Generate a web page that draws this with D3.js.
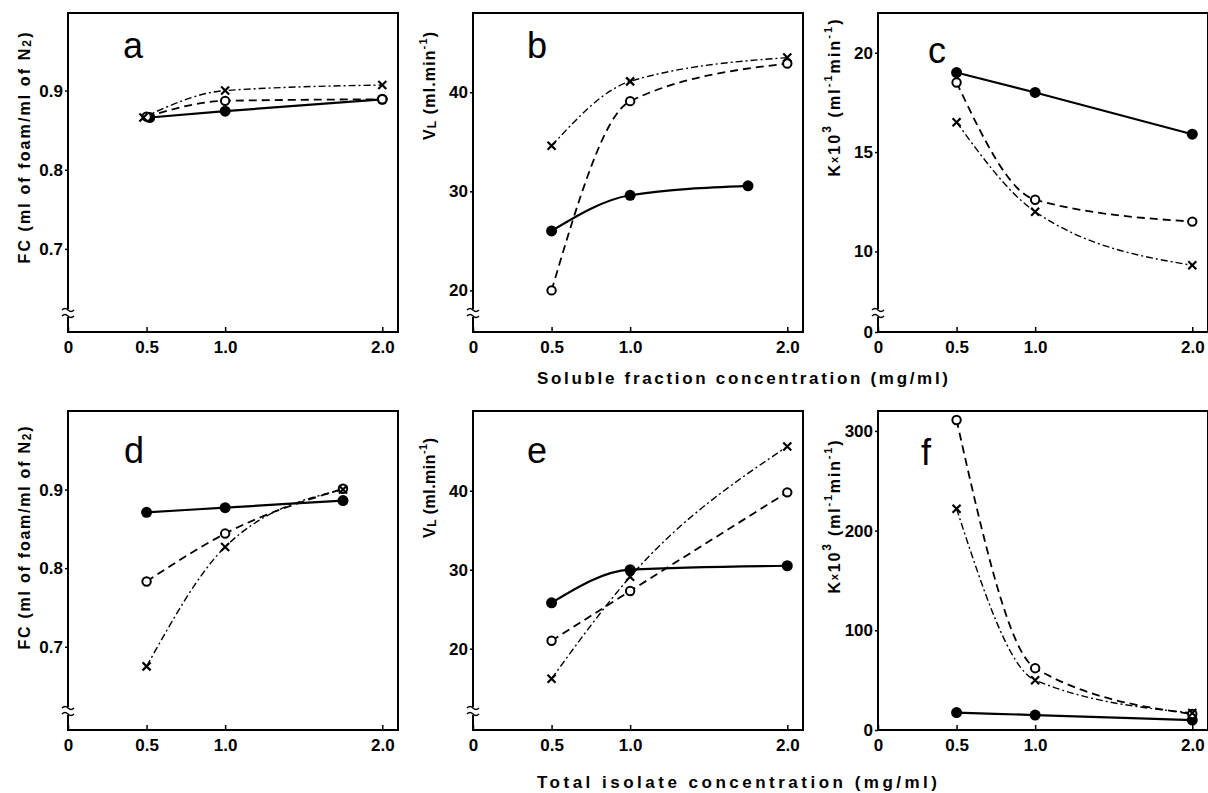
<!DOCTYPE html>
<html>
<head>
<meta charset="utf-8">
<script src="https://cdn.jsdelivr.net/npm/d3@7"></script>
<style>
  body { margin: 0; background: #fff; }
  svg text { font-family: "Liberation Sans", Arial, sans-serif; fill: #000; }
  .ylab { font-size: 16px; font-weight: bold; }
  .xtitle { font-size: 17px; font-weight: bold; }
  .letter { font-size: 36px; font-weight: normal; }
</style>
</head>
<body>
<div id="chart"></div>
<script>
// x positions (mg/ml)
var xTicks = [0, 0.5, 1.0, 2.0];
var xConc = [0.5, 1.0, 2.0];
var xConcShort = [0.5, 1.0, 1.75];
var xConcA_filled = [0.52, 1.0, 2.0];
var xConcA_cross = [0.48, 1.0, 2.0];

// a: FC, soluble fraction
var aFilled = [0.866, 0.874, 0.889];
var aOpen = [0.867, 0.887, 0.889];
var aCross = [0.866, 0.900, 0.907];
// b: VL, soluble fraction
var bFilled = [26.0, 29.6, 30.55];
var bOpen = [20.0, 39.1, 42.9];
var bCross = [34.6, 41.1, 43.5];
// c: K x 10^3, soluble fraction
var cFilled = [19.0, 18.0, 15.9];
var cOpen = [18.5, 12.6, 11.5];
var cCross = [16.5, 12.0, 9.3];
// d: FC, total isolate
var dFilled = [0.871, 0.877, 0.886];
var dOpen = [0.783, 0.844, 0.901];
var dCross = [0.675, 0.827, 0.900];
// e: VL, total isolate
var eFilled = [25.8, 30.0, 30.5];
var eOpen = [21.0, 27.3, 39.8];
var eCross = [16.2, 29.1, 45.6];
// f: K x 10^3, total isolate
var fFilled = [17.5, 15, 10];
var fOpen = [311, 62, 16];
var fCross = [222, 50, 17];

var yTicksFC = [0.7, 0.8, 0.9];
var yTicksV = [20, 30, 40];
var yTicksKc = [0, 10, 15, 20];
var yTicksKf = [0, 100, 200, 300];

var width = 1208, height = 793;
var colLeft = [68, 473, 878];
var rowTop = [13, 411];
var pw = 330, ph = 319;

function zip(xs, ys) { return xs.map(function(x, i) { return [x, ys[i]]; }); }

var panels = [
  { letter: 'a', col: 0, row: 0, yDomain: [0.595, 0.998], yTicks: yTicksFC, fmt: '.1f', brk: true, lab: 'fc', labY: 135, labLen: 231, letterPos: [65, 32],
    series: [zip(xConcA_filled, aFilled), zip(xConc, aOpen), zip(xConcA_cross, aCross)] },
  { letter: 'b', col: 1, row: 0, yDomain: [15.8, 48.0], yTicks: yTicksV, fmt: 'd', brk: true, lab: 'v', labY: 73, labLen: 108, letterPos: [64, 32],
    series: [zip(xConcShort, bFilled), zip(xConc, bOpen), zip(xConc, bCross)] },
  { letter: 'c', col: 2, row: 0, yDomain: [0, 6.9, 22.0], yTicks: yTicksKc, fmt: 'd', brk: true, lab: 'k', labY: 85, labLen: 157, letterPos: [59, 37],
    series: [zip(xConc, cFilled), zip(xConc, cOpen), zip(xConc, cCross)] },
  { letter: 'd', col: 0, row: 1, yDomain: [0.594, 1.0], yTicks: yTicksFC, fmt: '.1f', brk: true, lab: 'fc', labY: 127, labLen: 223, letterPos: [66, 39],
    series: [zip(xConcShort, dFilled), zip(xConcShort, dOpen), zip(xConcShort, dCross)] },
  { letter: 'e', col: 1, row: 1, yDomain: [9.7, 50.1], yTicks: yTicksV, fmt: 'd', brk: true, lab: 'v', labY: 77, labLen: 100, letterPos: [64, 39],
    series: [zip(xConc, eFilled), zip(xConc, eOpen), zip(xConc, eCross)] },
  { letter: 'f', col: 2, row: 1, yDomain: [0, 320], yTicks: yTicksKf, fmt: 'd', brk: false, lab: 'k', labY: 106, labLen: 153, letterPos: [48, 41],
    series: [zip(xConc, fFilled), zip(xConc, fOpen), zip(xConc, fCross)] }
];

var svg = d3.select("#chart").append("svg")
    .attr("width", width)
    .attr("height", height);

svg.append("rect").attr("width", width).attr("height", height).attr("fill", "#fff");

var x = d3.scaleLinear().domain([0, 2.1]).range([0, pw]);
var line = d3.line()
    .x(function(d) { return x(d[0]); })
    .curve(d3.curveMonotoneX);

var styles = [
  { dash: null, width: 2.2 },
  { dash: "8,5", width: 1.8 },
  { dash: "7,3,2,3", width: 1.4 }
];

function yLabel(t, kind) {
  if (kind === 'fc') {
    t.append("tspan").text("FC (ml of foam/ml of N");
    t.append("tspan").attr("baseline-shift", "-25%").attr("font-size", "12px").text("2");
    t.append("tspan").text(")");
  } else if (kind === 'v') {
    t.append("tspan").text("V");
    t.append("tspan").attr("baseline-shift", "-25%").attr("font-size", "12px").text("L");
    t.append("tspan").text(" (ml.min");
    t.append("tspan").attr("baseline-shift", "super").attr("font-size", "11px").text("-1");
    t.append("tspan").text(")");
  } else {
    t.append("tspan").text("K");
    t.append("tspan").attr("font-size", "11px").text("x");
    t.append("tspan").text("10");
    t.append("tspan").attr("baseline-shift", "super").attr("font-size", "12px").text("3");
    t.append("tspan").text(" (ml");
    t.append("tspan").attr("baseline-shift", "super").attr("font-size", "11px").text("-1");
    t.append("tspan").text("min");
    t.append("tspan").attr("baseline-shift", "super").attr("font-size", "11px").text("-1");
    t.append("tspan").text(")");
  }
}

panels.forEach(function(p) {
  var g = svg.append("g")
      .attr("transform", "translate(" + colLeft[p.col] + "," + rowTop[p.row] + ")");

  var yRange = p.yDomain.length === 3 ? [ph, ph - 19, 0] : [ph, 0];
  var y = d3.scaleLinear().domain(p.yDomain).range(yRange);
  line.y(function(d) { return y(d[1]); });

  // axes
  var xa = g.append("g")
      .attr("transform", "translate(0," + ph + ")")
      .call(d3.axisBottom(x).tickValues(xTicks).tickSize(-5).tickPadding(9)
        .tickFormat(function(d) { return d === 0 ? "0" : d3.format(".1f")(d); }));
  xa.select(".domain").remove();
  xa.selectAll(".tick line").attr("stroke-width", 1.5);

  var ya = g.append("g")
      .call(d3.axisLeft(y).tickValues(p.yTicks).tickSize(3).tickPadding(2)
        .tickFormat(d3.format(p.fmt)));
  ya.select(".domain").remove();
  ya.selectAll(".tick line").attr("stroke-width", 1.5);

  g.selectAll(".tick text")
      .style("font-size", "17px")
      .style("font-weight", "bold")
      .style("font-family", "'Liberation Sans', Arial, sans-serif");

  // frame
  g.append("rect")
      .attr("width", pw).attr("height", ph)
      .attr("fill", "none").attr("stroke", "#000").attr("stroke-width", 2);

  // axis break
  if (p.brk) {
    var by = ph - 19;
    g.append("rect").attr("x", -3).attr("y", by - 4).attr("width", 6).attr("height", 8).attr("fill", "#fff");
    [-3, 3].forEach(function(o) {
      g.append("path")
          .attr("d", "M-6," + (by + o) + " q3,-3 6,0 t6,0")
          .attr("fill", "none").attr("stroke", "#000").attr("stroke-width", 1.5);
    });
  }

  // series lines
  p.series.forEach(function(s, i) {
    g.append("path")
        .datum(s)
        .attr("d", line)
        .attr("fill", "none")
        .attr("stroke", "#000")
        .attr("stroke-width", styles[i].width)
        .attr("stroke-dasharray", styles[i].dash);
  });

  // markers
  g.selectAll(".filled").data(p.series[0]).enter().append("circle")
      .attr("cx", function(d) { return x(d[0]); })
      .attr("cy", function(d) { return y(d[1]); })
      .attr("r", 5.5).attr("fill", "#000");
  g.selectAll(".open").data(p.series[1]).enter().append("circle")
      .attr("cx", function(d) { return x(d[0]); })
      .attr("cy", function(d) { return y(d[1]); })
      .attr("r", 4.2).attr("fill", "#fff").attr("stroke", "#000").attr("stroke-width", 2);
  g.selectAll(".cross").data(p.series[2]).enter().append("path")
      .attr("transform", function(d) { return "translate(" + x(d[0]) + "," + y(d[1]) + ")"; })
      .attr("d", "M-4,-4L4,4M4,-4L-4,4")
      .attr("stroke", "#000").attr("stroke-width", 2.2);

  // panel letter
  g.append("text").attr("class", "letter")
      .attr("x", p.letterPos[0]).attr("y", p.letterPos[1])
      .attr("text-anchor", "middle").attr("dominant-baseline", "central")
      .text(p.letter);

  // y label
  var t = g.append("text").attr("class", "ylab")
      .attr("text-anchor", "middle").attr("dominant-baseline", "central")
      .attr("textLength", p.labLen).attr("lengthAdjust", "spacing")
      .attr("transform", "translate(-44," + p.labY + ") rotate(-90)");
  yLabel(t, p.lab);
});

svg.append("text").attr("class", "xtitle")
    .attr("x", 537).attr("y", 384)
    .attr("textLength", 411).attr("lengthAdjust", "spacing")
    .text("Soluble fraction concentration  (mg/ml)");
svg.append("text").attr("class", "xtitle")
    .attr("x", 537).attr("y", 788)
    .attr("textLength", 400).attr("lengthAdjust", "spacing")
    .text("Total isolate concentration  (mg/ml)");
</script>
</body>
</html>
